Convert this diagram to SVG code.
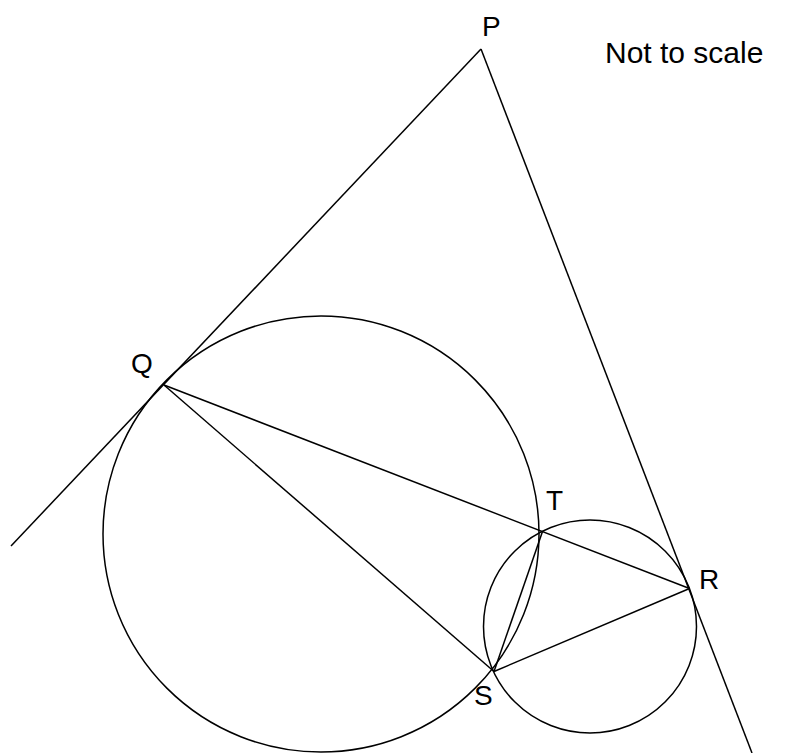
<svg xmlns="http://www.w3.org/2000/svg" width="811" height="753" viewBox="0 0 811 753">
<style>
.ln{stroke:#000;stroke-width:1.5;fill:none}
.lb{font-family:"Liberation Sans",Arial,sans-serif;font-size:28px;fill:#000}
.nt{font-family:"Liberation Sans",Arial,sans-serif;font-size:30px;fill:#000}
</style>
<rect width="811" height="753" fill="#fff"/>
<g id="connectors">
<line class="ln" x1="481" y1="49" x2="11" y2="546"/>
<line class="ln" x1="481" y1="49" x2="752" y2="753"/>
<line class="ln" x1="164" y1="385" x2="689.5" y2="588.5"/>
<line class="ln" x1="164" y1="385" x2="494" y2="671.5"/>
<line class="ln" x1="494" y1="671.5" x2="689.5" y2="588.5"/>
<line class="ln" x1="494" y1="671.5" x2="542.5" y2="531.5"/>
</g>
<g id="big-circle"><circle class="ln" cx="321" cy="534" r="218"/></g>
<g id="small-circle"><circle class="ln" cx="590" cy="626.5" r="106.5"/></g>
<g id="P"><text class="lb" x="482" y="36">P</text></g>
<g id="Q"><text class="lb" x="131" y="373">Q</text></g>
<g id="T"><text class="lb" x="546" y="510">T</text></g>
<g id="R"><text class="lb" x="699" y="589">R</text></g>
<g id="S"><text class="lb" x="474" y="705">S</text></g>
<g id="note"><text class="nt" x="605" y="63">Not to scale</text></g>
</svg>
